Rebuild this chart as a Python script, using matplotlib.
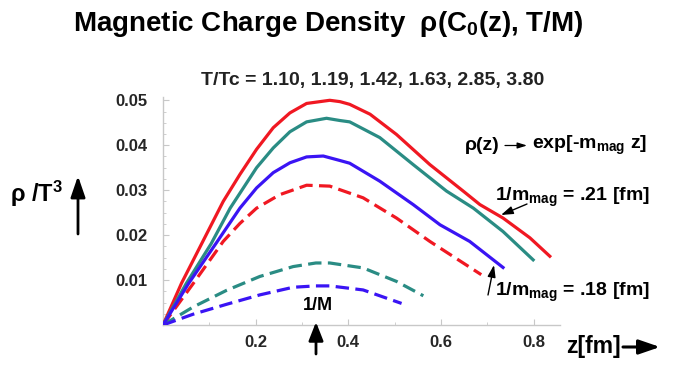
import matplotlib
matplotlib.use("Agg")
import matplotlib.pyplot as plt
from matplotlib.ticker import MultipleLocator, FixedLocator

plt.rcParams['font.family'] = ['Liberation Sans', 'DejaVu Sans']
plt.rcParams['font.weight'] = 'bold'
plt.rcParams['mathtext.fontset'] = 'custom'
plt.rcParams['mathtext.rm'] = 'Liberation Sans:bold'
plt.rcParams['mathtext.it'] = 'Liberation Sans:bold'
plt.rcParams['mathtext.bf'] = 'Liberation Sans:bold'
plt.rcParams['mathtext.default'] = 'rm'

# ---- data ----
z_red_solid = [0, 0.040, 0.0835, 0.130, 0.166, 0.202, 0.238, 0.274, 0.310, 0.360, 0.382, 0.403, 0.447, 0.504, 0.576, 0.648, 0.684, 0.734, 0.792, 0.835]
rho_red_solid = [0, 0.0093, 0.0181, 0.0275, 0.0335, 0.0391, 0.0439, 0.0472, 0.0493, 0.0500, 0.0497, 0.0491, 0.0469, 0.0424, 0.0357, 0.0298, 0.0268, 0.0238, 0.0194, 0.0153]

z_teal_solid = [0, 0.050, 0.104, 0.145, 0.202, 0.238, 0.274, 0.310, 0.353, 0.382, 0.403, 0.468, 0.540, 0.612, 0.670, 0.734, 0.799]
rho_teal_solid = [0, 0.0092, 0.0181, 0.0260, 0.0350, 0.0394, 0.0430, 0.0452, 0.0460, 0.0455, 0.0452, 0.0417, 0.0357, 0.0298, 0.0260, 0.0208, 0.0145]

z_blue_solid = [0, 0.055, 0.114, 0.166, 0.202, 0.238, 0.274, 0.310, 0.346, 0.382, 0.403, 0.468, 0.540, 0.598, 0.662, 0.734]
rho_blue_solid = [0, 0.0092, 0.0181, 0.0260, 0.0305, 0.0339, 0.0361, 0.0374, 0.0376, 0.0366, 0.0360, 0.0320, 0.0268, 0.0223, 0.0186, 0.0128]

z_red_dashed = [0, 0.065, 0.130, 0.166, 0.202, 0.252, 0.310, 0.360, 0.382, 0.432, 0.504, 0.576, 0.648, 0.687]
rho_red_dashed = [0, 0.0092, 0.0186, 0.0226, 0.0260, 0.0290, 0.0311, 0.0309, 0.0301, 0.0283, 0.0238, 0.0186, 0.0138, 0.0112]

z_teal_dashed = [0, 0.065, 0.137, 0.209, 0.281, 0.33, 0.36, 0.432, 0.504, 0.562]
rho_teal_dashed = [0, 0.0040, 0.0077, 0.0108, 0.0130, 0.0138, 0.0138, 0.0127, 0.0097, 0.0065]

z_blue_dashed = [0, 0.065, 0.137, 0.209, 0.281, 0.33, 0.36, 0.432, 0.515]
rho_blue_dashed = [0, 0.0024, 0.0046, 0.0067, 0.0084, 0.0087, 0.0087, 0.0078, 0.0048]

x_ticks = [0.2, 0.4, 0.6, 0.8]
x_tick_labels = ["0.2", "0.4", "0.6", "0.8"]
y_ticks = [0.01, 0.02, 0.03, 0.04, 0.05]
y_tick_labels = ["0.01", "0.02", "0.03", "0.04", "0.05"]

RED = "#F01822"
TEAL = "#2A8C84"
BLUE = "#3A14F4"

W, H = 693, 371
fig = plt.figure(figsize=(W / 100, H / 100), dpi=100)

def fx(px):
    return px / W

def fy(py):
    return 1 - py / H

ax = fig.add_axes([fx(163), fy(325), fx(560) - fx(163), fy(96.7) - fy(325)])
ax.set_xlim(0, 0.857)
ax.set_ylim(0, 0.0508)

lw = 2.3
dash = (0, (4.2, 2.0))
ax.plot(z_red_solid, rho_red_solid, color=RED, lw=lw, solid_joinstyle='round', zorder=5)
ax.plot(z_teal_solid, rho_teal_solid, color=TEAL, lw=lw, solid_joinstyle='round', zorder=5)
ax.plot(z_blue_solid, rho_blue_solid, color=BLUE, lw=lw, solid_joinstyle='round', zorder=5)
ax.plot(z_red_dashed, rho_red_dashed, color=RED, lw=lw, ls=dash, zorder=4)
ax.plot(z_teal_dashed, rho_teal_dashed, color=TEAL, lw=lw, ls=dash, zorder=4)
ax.plot(z_blue_dashed, rho_blue_dashed, color=BLUE, lw=lw, ls=dash, zorder=4)

for s in ['top', 'right']:
    ax.spines[s].set_visible(False)
for s in ['left', 'bottom']:
    ax.spines[s].set_color('#C8C8C8')
    ax.spines[s].set_linewidth(1.0)

ax.xaxis.set_major_locator(FixedLocator(x_ticks))
ax.set_xticklabels(x_tick_labels)
ax.xaxis.set_minor_locator(MultipleLocator(0.1))
ax.yaxis.set_major_locator(FixedLocator(y_ticks))
ax.set_yticklabels(y_tick_labels)
ax.yaxis.set_minor_locator(MultipleLocator(0.0025))
ax.tick_params(which='both', direction='in', color='#C8C8C8', labelsize=12,
               labelcolor='#262626')
ax.tick_params(which='major', length=4, width=0.8)
ax.tick_params(which='minor', length=2, width=0.6)
ax.tick_params(axis='x', pad=7)
ax.tick_params(axis='y', pad=11)
for lab in ax.get_xticklabels() + ax.get_yticklabels():
    lab.set_fontweight('bold')

# ---- texts ----
fig.text(fx(328.5), fy(24), "Magnetic Charge Density  \u03c1(C$_0$(z), T/M)",
         ha='center', va='center', fontsize=20, fontweight='bold')
fig.text(fx(372.5), fy(80.7), "T/Tc = 1.10, 1.19, 1.42, 1.63, 2.85, 3.80",
         ha='center', va='center', fontsize=14, fontweight='bold', color='#222222')
fig.text(fx(10), fy(194), "\u03c1 /T$^{3}$", ha='left', va='center',
         fontsize=17, fontweight='bold')
fig.text(fx(318), fy(306), "1/M", ha='center', va='center', fontsize=13,
         fontweight='bold')
fig.text(fx(566), fy(347), "z[fm]", ha='left', va='center', fontsize=16.5,
         fontweight='bold')
fig.text(fx(465), fy(145), "\u03c1(z)", ha='left', va='center',
         fontsize=14, fontweight='bold')
fig.text(fx(532.5), fy(145), "exp[-m$_{mag}$ z]", ha='left', va='center',
         fontsize=14, fontweight='bold')
fig.text(fx(495), fy(197), "1/m$_{mag}$ = .21 [fm]", ha='left', va='center',
         fontsize=14, fontweight='bold')
fig.text(fx(495), fy(292), "1/m$_{mag}$ = .18 [fm]", ha='left', va='center',
         fontsize=14, fontweight='bold')

# arrows
def arrow(x0, y0, x1, y1, lw=1.8, hw=0.35, hl=0.7):
    fig.add_artist(matplotlib.patches.FancyArrowPatch(
        (fx(x0), fy(y0)), (fx(x1), fy(y1)), transform=fig.transFigure,
        arrowstyle=f"-|>,head_width={hw*8},head_length={hl*8}", color='black',
        lw=lw, mutation_scale=1, shrinkA=0, shrinkB=0))

arrow(78, 234, 78, 176, lw=2.0, hw=0.55, hl=1.6)
arrow(316, 354, 316, 322, lw=2.0, hw=0.55, hl=1.4)
arrow(623, 347, 660, 347, lw=2.2, hw=0.55, hl=1.6)
arrow(527, 204, 501, 215, lw=1.0, hw=0.3, hl=0.9)
arrow(488, 295, 494, 265, lw=1.0, hw=0.3, hl=0.9)
arrow(505, 145.5, 527, 145.5, lw=0.9, hw=0.22, hl=0.7)

fig.savefig("out.png", dpi=100)
